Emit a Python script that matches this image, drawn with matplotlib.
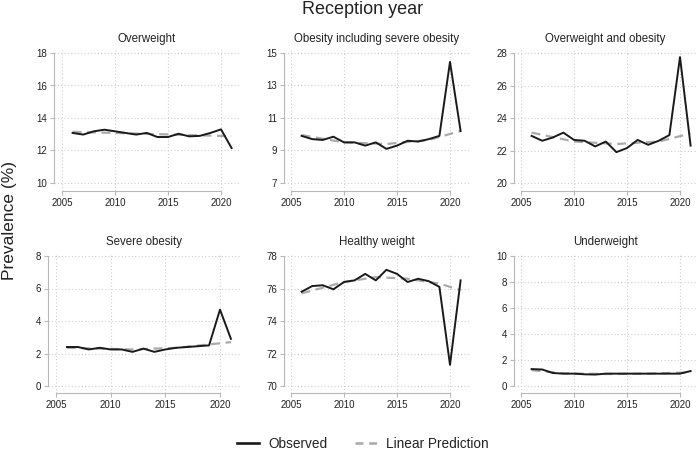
import matplotlib
matplotlib.use("Agg")
import matplotlib.pyplot as plt
from matplotlib.lines import Line2D

plt.rcParams['font.family'] = ['Liberation Sans', 'DejaVu Sans']

years = list(range(2006, 2022))

titles = ["Overweight", "Obesity including severe obesity", "Overweight and obesity",
          "Severe obesity", "Healthy weight", "Underweight"]

overweight = [13.08, 12.98, 13.18, 13.28, 13.18, 13.08, 12.98, 13.08, 12.83, 12.83, 13.03, 12.87, 12.9, 13.08, 13.3, 12.15]
obesity = [9.9, 9.7, 9.65, 9.85, 9.5, 9.5, 9.3, 9.5, 9.1, 9.3, 9.6, 9.55, 9.7, 9.9, 14.45, 10.2]
ow_ob = [22.9, 22.6, 22.8, 23.1, 22.65, 22.6, 22.25, 22.55, 21.9, 22.15, 22.65, 22.35, 22.6, 22.95, 27.75, 22.3]
severe = [2.4, 2.4, 2.25, 2.35, 2.25, 2.25, 2.1, 2.3, 2.1, 2.25, 2.35, 2.4, 2.45, 2.5, 4.7, 2.9]
healthy = [75.8, 76.15, 76.2, 75.95, 76.4, 76.5, 76.9, 76.5, 77.15, 76.9, 76.4, 76.6, 76.45, 76.1, 71.3, 76.5]
underweight = [1.3, 1.27, 1.0, 0.95, 0.95, 0.9, 0.88, 0.95, 0.95, 0.95, 0.95, 0.95, 0.95, 0.95, 0.95, 1.15]
observed = [overweight, obesity, ow_ob, severe, healthy, underweight]

pred_years = [
    [2006, 2021],
    [2006, 2010, 2014, 2018, 2021],
    [2006, 2010, 2014, 2018, 2021],
    [2006, 2012, 2016, 2021],
    [2006, 2010, 2013, 2016, 2019, 2021],
    [2006, 2009, 2013, 2017, 2021],
]
pred_vals = [
    [13.15, 12.88],
    [9.95, 9.5, 9.4, 9.65, 10.2],
    [23.1, 22.55, 22.4, 22.55, 23.05],
    [2.35, 2.25, 2.35, 2.7],
    [75.7, 76.4, 76.7, 76.6, 76.3, 75.9],
    [1.22, 0.98, 0.92, 0.95, 1.05],
]

yticks = [
    [10, 12, 14, 16, 18],
    [7, 9, 11, 13, 15],
    [20, 22, 24, 26, 28],
    [0, 2, 4, 6, 8],
    [70, 72, 74, 76, 78],
    [0, 2, 4, 6, 8, 10],
]
xticks = [2005, 2010, 2015, 2020]

W, H = 697, 450
fig = plt.figure(figsize=(W / 100, H / 100), dpi=100)

# pixel layout: (left, right, top, bottom) of each axes, plus px of first/last x tick
layout = [
    (54, 240, 50, 191, 62, 221),
    (284, 470, 50, 191, 291, 450),
    (514, 697, 50, 191, 521, 680),
    (48, 240, 253, 393, 56, 220),
    (284, 470, 253, 393, 291, 450),
    (514, 697, 253, 393, 521, 680),
]

spine_col = "#b8b8b8"
grid_col = "#d0d0d0"
obs_col = "#1a1a1a"
pred_col = "#ababab"

for i in range(6):
    l, r, t, b, x0px, x1px = layout[i]
    ax = fig.add_axes([l / W, 1 - b / H, (r - l) / W, (b - t) / H])
    ppy = (x1px - x0px) / 15.0
    ax.set_xlim(2005 - (x0px - l) / ppy, 2020 + (r - x1px) / ppy)
    yt = yticks[i]
    span = yt[-1] - yt[0]
    ymin_px = b - 7 if i >= 3 else b - 8
    ymax_px = t + 3
    ppu = (ymin_px - ymax_px) / span
    ax.set_ylim(yt[0] - (b - ymin_px) / ppu, yt[-1] + (ymax_px - t) / ppu)

    ax.grid(True, linestyle=(0, (1, 2)), color=grid_col, linewidth=0.8)
    ax.set_axisbelow(True)
    ax.plot(pred_years[i], pred_vals[i], color=pred_col, linestyle=(0, (4, 2.5)), linewidth=1.6, zorder=2)
    ax.plot(years, observed[i], color=obs_col, linewidth=1.4, zorder=3)

    ax.set_xticks(xticks)
    ax.set_yticks(yt)
    ax.set_xticklabels([str(x) for x in xticks])
    ax.set_yticklabels([str(y) for y in yt])
    for s in ["top", "right"]:
        ax.spines[s].set_visible(False)
    ax.spines["left"].set_color(spine_col)
    ax.spines["bottom"].set_color(spine_col)
    ax.spines["left"].set_bounds(yt[0], yt[-1])
    ax.spines["bottom"].set_bounds(2005, 2020)
    ax.tick_params(axis="both", colors=spine_col, labelcolor="#222222", labelsize=7, length=3, width=0.8, pad=2)
    ax.set_title(titles[i], fontsize=8.3, color="#222222", pad=6)

fig.text(363 / W, 1 - 9 / H, "Reception year", ha="center", va="center", fontsize=13, color="#222222")
fig.text(10 / W, 1 - 221 / H, "Prevalence (%)", ha="center", va="center", rotation=90, fontsize=12.5, color="#222222")

handles = [Line2D([], [], color=obs_col, linewidth=1.9),
           Line2D([], [], color=pred_col, linewidth=1.9, linestyle=(0, (3.0, 2.2)))]
fig.legend(handles, ["Observed", "Linear Prediction"], loc="center", ncol=2,
           bbox_to_anchor=(363 / W, 1 - 444 / H), frameon=False, fontsize=9.8,
           handlelength=1.6, columnspacing=2.0, handletextpad=0.7, labelcolor="#222222")

fig.savefig("out.png", dpi=100)
